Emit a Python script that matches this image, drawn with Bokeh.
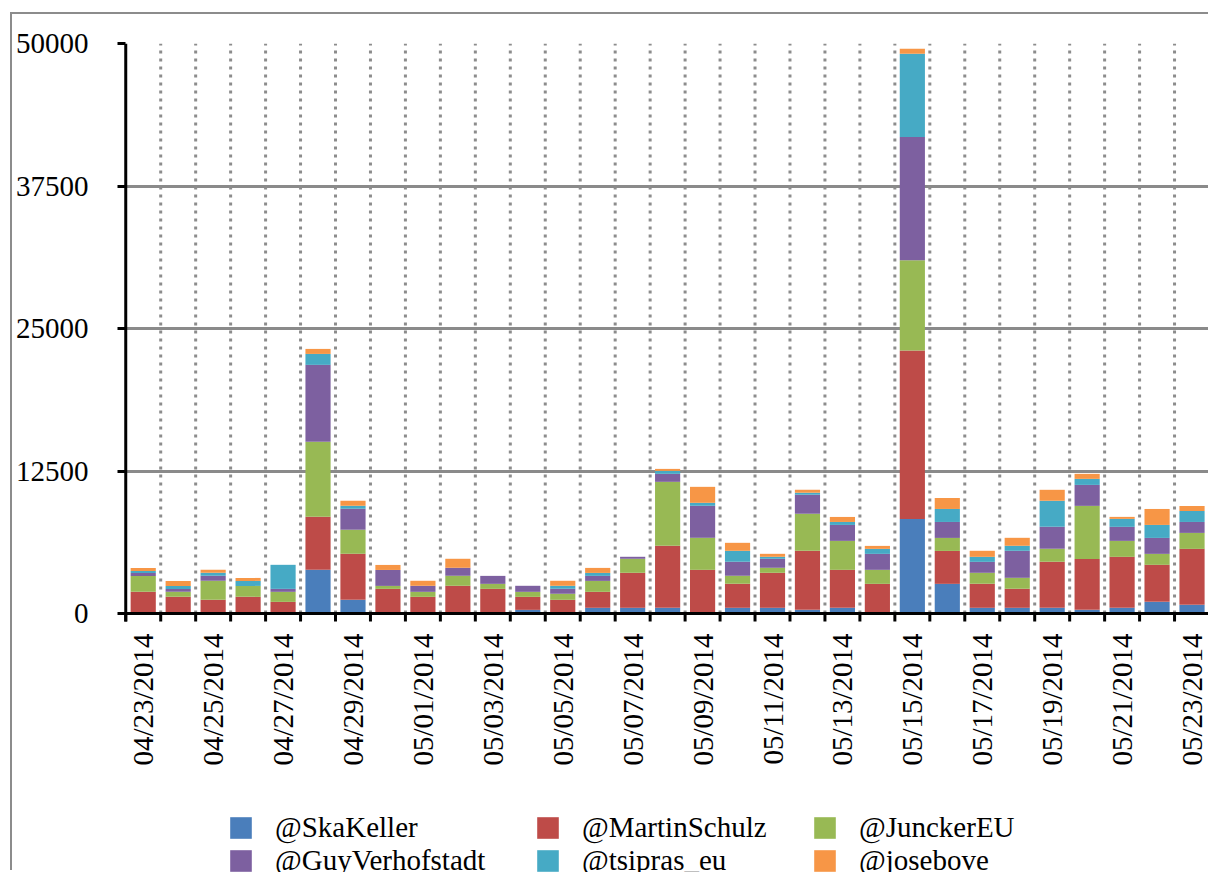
import math
from bokeh.plotting import figure
from bokeh.models import FixedTicker, Legend, LegendItem, ColumnDataSource
from bokeh.core.properties import value
from bokeh.embed import file_html
from bokeh.resources import INLINE

dates = ["04/23/2014", "04/24/2014", "04/25/2014", "04/26/2014", "04/27/2014", "04/28/2014",
         "04/29/2014", "04/30/2014", "05/01/2014", "05/02/2014", "05/03/2014", "05/04/2014",
         "05/05/2014", "05/06/2014", "05/07/2014", "05/08/2014", "05/09/2014", "05/10/2014",
         "05/11/2014", "05/12/2014", "05/13/2014", "05/14/2014", "05/15/2014", "05/16/2014",
         "05/17/2014", "05/18/2014", "05/19/2014", "05/20/2014", "05/21/2014", "05/22/2014",
         "05/23/2014"]

ska_keller = [0, 0, 0, 0, 0, 3830, 1200, 0, 0, 0, 0, 320, 0, 500, 500, 500, 0, 500, 500, 320,
              500, 0, 8300, 2600, 500, 500, 500, 320, 500, 1020, 760]
martin_schulz = [1900, 1460, 1200, 1460, 1020, 4650, 4040, 2160, 1460, 2430, 2160, 1140, 1200, 1400,
                 3070, 5440, 3830, 2110, 3070, 5180, 3330, 2600, 14780, 2890, 2110, 1670, 4040,
                 4470, 4470, 3250, 4910]
juncker_eu = [1400, 440, 1670, 960, 880, 6580, 2110, 260, 440, 880, 440, 440, 530, 960, 1230, 5610,
              2810, 700, 440, 3250, 2540, 1230, 7900, 1140, 960, 960, 1140, 4650, 1400, 960, 1400]
guy_verhofstadt = [260, 260, 440, 0, 260, 6750, 1840, 1400, 530, 700, 700, 530, 440, 440, 175, 700,
                   2810, 1230, 790, 1670, 1400, 1400, 10810, 1400, 960, 2370, 1930, 1840, 1230,
                   1400, 960]
tsipras_eu = [175, 260, 260, 440, 2110, 960, 260, 0, 0, 0, 0, 0, 260, 260, 0, 260, 260, 960, 175,
              175, 260, 440, 7310, 1140, 440, 440, 2280, 530, 700, 1140, 960]
jose_bove = [250, 440, 260, 260, 0, 440, 440, 440, 440, 790, 0, 0, 440, 440, 0, 175, 1400, 700, 260,
             260, 440, 260, 430, 960, 530, 700, 960, 440, 175, 1400, 440]

series_labels = ["@SkaKeller", "@MartinSchulz", "@JunckerEU", "@GuyVerhofstadt", "@tsipras_eu", "@josebove"]
y_ticks = [0, 12500, 25000, 37500, 50000]
y_max = 50000

keys = ["ska", "schulz", "juncker", "guy", "tsipras", "bove"]
colors = ["#4A7EBB", "#BE4B48", "#98B954", "#7D60A0", "#46AAC5", "#F79646"]

n = len(dates)
xc = [i + 0.5 for i in range(n)]
src = ColumnDataSource(dict(x=xc, ska=ska_keller, schulz=martin_schulz, juncker=juncker_eu,
                            guy=guy_verhofstadt, tsipras=tsipras_eu, bove=jose_bove))

FONT = "Liberation Serif"
FONT_Q = "'Liberation Serif', serif"

# layout (page pixels): frame top at 43, zero line at 613, frame runs to bottom of page
TOP_PX, ZERO_PX, BOTTOM_PX = 43, 613, 872
unit_per_px = y_max / (ZERO_PX - TOP_PX)
y_start = -(BOTTOM_PX - ZERO_PX) * unit_per_px
tick_len = 8 * unit_per_px

p = figure(width=1198, height=858, x_range=(-0.15, n), y_range=(y_start, y_max),
           output_backend="svg", toolbar_location=None, x_axis_location=None,
           min_border_left=106, min_border_top=29, min_border_right=1, min_border_bottom=0)
p.margin = (12, 0, 0, 10)
p.styles = {"border-top": "2px solid #8c8c8c", "border-left": "2px solid #8c8c8c"}
p.outline_line_color = None
p.background_fill_color = "white"
p.border_fill_color = "white"

# y axis (ticks + labels from the axis, line drawn as a segment so it stops at the baseline)
p.yaxis.ticker = FixedTicker(ticks=y_ticks)
p.yaxis.axis_line_color = None
p.yaxis.major_tick_line_width = 3
p.yaxis.major_tick_line_color = "black"
p.yaxis.major_tick_out = 3
p.yaxis.major_tick_in = 5
p.yaxis.minor_tick_line_color = None
p.yaxis.major_label_standoff = 29
p.yaxis.major_label_text_font = FONT
p.yaxis.major_label_text_font_size = "29px"
p.yaxis.major_label_text_color = "black"

# grids
p.xgrid.visible = False
p.ygrid.ticker = FixedTicker(ticks=y_ticks[1:])
p.ygrid.grid_line_color = "#8a8a8a"
p.ygrid.grid_line_width = 3

bounds = list(range(n + 1))
p.segment(x0=bounds[1:-1], y0=0, x1=bounds[1:-1], y1=y_max, line_color="#8c8c8c",
          line_width=3, line_dash="3 5")

rs = p.vbar_stack(keys, x="x", width=0.72, color=colors, line_color=None, source=src)

# x axis line, boundary ticks and date labels
p.segment(x0=0, y0=0, x1=n, y1=0, line_color="black", line_width=3)
p.segment(x0=bounds, y0=0, x1=bounds, y1=-tick_len, line_color="black", line_width=3)
p.segment(x0=0, y0=-tick_len, x1=0, y1=y_max, line_color="black", line_width=3)
lab_src = ColumnDataSource(dict(x=xc[::2], y=[0] * len(xc[::2]), t=dates[::2]))
p.text(x="x", y="y", text="t", source=lab_src, angle=math.pi / 2, text_align="right",
       text_baseline="middle", y_offset=20, text_font=value(FONT_Q), text_font_size="29px",
       text_color="black")

# legend: three columns of two items (row-major order as in the reference)
col_x = [107, 414, 691]
for c in range(3):
    its = [LegendItem(label=series_labels[c], renderers=[rs[c]]),
           LegendItem(label=series_labels[c + 3], renderers=[rs[c + 3]])]
    lg = Legend(items=its, orientation="vertical", location=(col_x[c], -5),
                padding=0, margin=0, spacing=0, glyph_width=27, glyph_height=27,
                label_standoff=21, label_height=27, label_text_font=FONT_Q,
                label_text_font_size="29px", label_text_color="black",
                border_line_color=None, background_fill_alpha=0)
    p.add_layout(lg, "center")

open("out.html", "w").write(file_html(p, INLINE))
